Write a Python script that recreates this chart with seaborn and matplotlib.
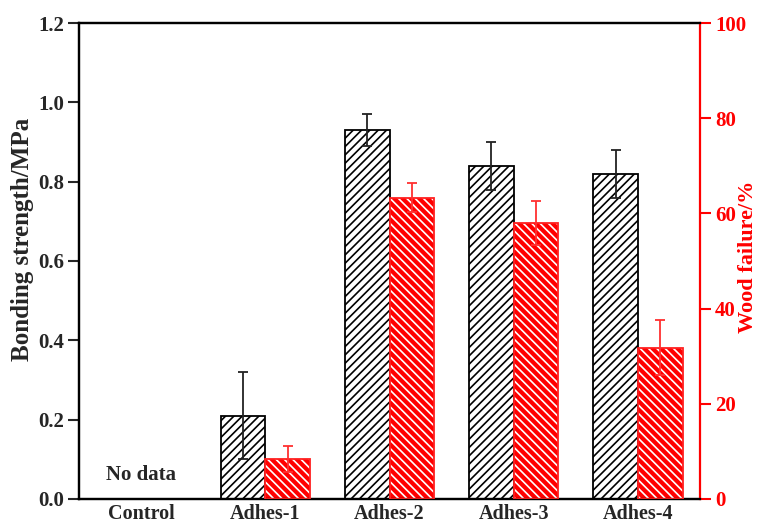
import matplotlib
matplotlib.use("Agg")
import matplotlib.pyplot as plt
import matplotlib.patches as mpatches
import numpy as np
import pandas as pd
import seaborn as sns

categories = ["Control", "Adhes-1", "Adhes-2", "Adhes-3", "Adhes-4"]
strength = [np.nan, 0.21, 0.93, 0.84, 0.82]
strength_err = [np.nan, 0.11, 0.04, 0.06, 0.06]
wood_failure = [np.nan, 8.4, 63.3, 58.0, 31.8]
wood_err = [np.nan, 2.7, 3.1, 4.7, 5.8]
series = ["Bonding strength", "Wood failure"]

sns.set_theme(style="white")
plt.rcParams["font.family"] = ["Liberation Serif", "DejaVu Serif"]
plt.rcParams["font.weight"] = "bold"
plt.rcParams["hatch.linewidth"] = 1.2

df_s = pd.DataFrame({"cat": categories, "val": strength, "err": strength_err, "series": series[0]}).dropna()
df_w = pd.DataFrame({"cat": categories, "val": wood_failure, "err": wood_err, "series": series[1]}).dropna()

fig = plt.figure(figsize=(7.6, 5.23), dpi=100)
ax = fig.add_axes([0.104, 0.046, 0.817, 0.910])
ax2 = ax.twinx()

pal = {series[0]: "white", series[1]: "red"}
sns.barplot(data=df_s, x="cat", y="val", hue="series", order=categories, hue_order=series,
            width=0.72, dodge=True, errorbar=None, ax=ax, legend=False, palette=pal, saturation=1)
sns.barplot(data=df_w, x="cat", y="val", hue="series", order=categories, hue_order=series,
            width=0.72, dodge=True, errorbar=None, ax=ax2, legend=False, palette=pal, saturation=1)

FS_TICK = 15
FS_X = 14.5
FS_LAB = 18
FS_LAB2 = 16

bars_s = [p for p in ax.patches if p.get_height() > 0]
for p, e in zip(bars_s, df_s["err"]):
    p.set_facecolor("white")
    p.set_edgecolor("black")
    p.set_linewidth(1.3)
    p.set_hatch("////")
    xc = p.get_x() + p.get_width() / 2
    ax.errorbar(xc, p.get_height(), yerr=e, color="#222222", capsize=3.6,
                elinewidth=1.3, capthick=1.3, zorder=5)

bars_w = [p for p in ax2.patches if p.get_height() > 0]
for p, e in zip(bars_w, df_w["err"]):
    p.set_facecolor("red")
    p.set_edgecolor("white")
    p.set_linewidth(0)
    p.set_hatch("\\\\\\\\")
    ax2.add_patch(mpatches.Rectangle(p.get_xy(), p.get_width(), p.get_height(),
                                     fill=False, edgecolor="#ff2020", lw=1.3, zorder=4))
    xc = p.get_x() + p.get_width() / 2
    ax2.errorbar(xc, p.get_height(), yerr=e, color="#ff3030", capsize=3.6,
                 elinewidth=1.3, capthick=1.3, zorder=5)

ax.set_xlim(-0.5, 4.5)
ax.set_ylim(0, 1.2)
ax2.set_ylim(0, 100)
yt = np.arange(0, 1.21, 0.2)
ax.set_yticks(yt)
ax.set_yticklabels([f"{v:.1f}" for v in yt], fontsize=FS_TICK, fontweight="bold")
ax2.set_yticks(np.arange(0, 101, 20))
ax2.set_yticklabels([f"{v:d}" for v in range(0, 101, 20)], fontsize=FS_TICK,
                    fontweight="bold", color="red")
ax.set_xticks(range(len(categories)))
ax.set_xticklabels(categories, fontsize=FS_X, fontweight="bold")

ax.set_xlabel("")
ax2.set_xlabel("")
ax.set_ylabel("Bonding strength/MPa", fontsize=FS_LAB, fontweight="bold")
ax2.set_ylabel("Wood failure/%", fontsize=FS_LAB2, fontweight="bold", color="red")
ax.yaxis.set_label_coords(-0.073, 0.546)
ax2.yaxis.set_label_coords(1.062, 0.508)

ax.tick_params(axis="y", direction="out", length=8, width=1.5, left=True, pad=3)
ax.tick_params(axis="x", length=0, pad=3.5)
ax2.tick_params(axis="y", direction="out", length=8, width=1.5, right=True, colors="red", pad=3)

for a in (ax, ax2):
    for s in a.spines.values():
        s.set_linewidth(1.6)
        s.set_color("black")
ax2.spines["right"].set_color("red")
ax.spines["right"].set_visible(False)

ax.text(0, 0.06, "No data", ha="center", va="center", fontsize=FS_TICK, fontweight="bold")

fig.savefig("out.png", dpi=100)
